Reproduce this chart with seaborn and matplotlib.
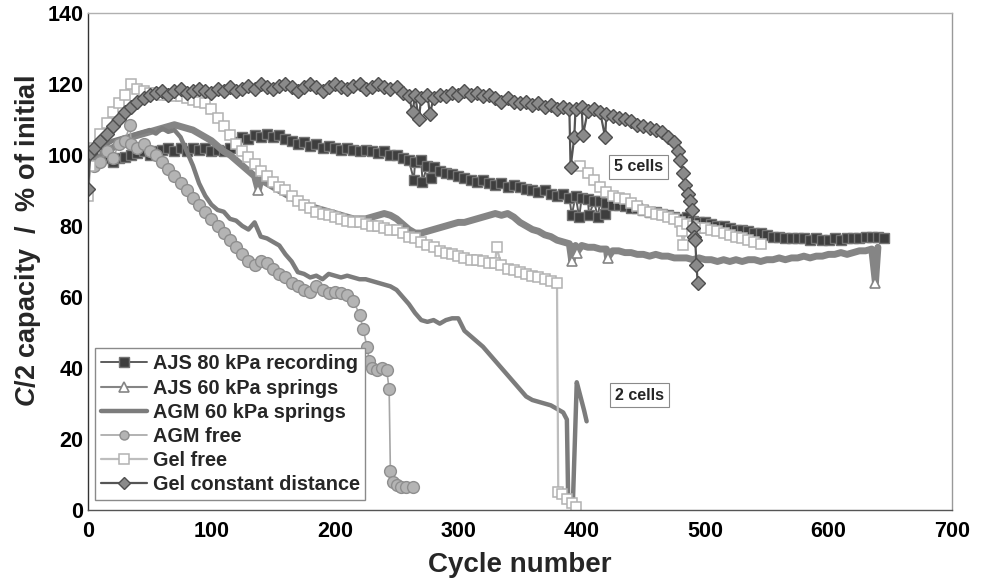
import numpy as np
import pandas as pd
import matplotlib
matplotlib.use("Agg")
import matplotlib.pyplot as plt
from matplotlib.lines import Line2D
import seaborn as sns

sns.set_theme(style="white")
plt.rcParams["font.family"] = ["Liberation Sans", "DejaVu Sans"]
plt.rcParams["font.weight"] = "bold"
plt.rcParams["mathtext.fontset"] = "custom"
plt.rcParams["mathtext.it"] = "Liberation Sans:italic:bold"
plt.rcParams["mathtext.rm"] = "Liberation Sans:bold"

# ---------------------------------------------------------------- data
# Regular readings every 5 cycles plus individual off-grid readings
# (start-up points, single-cycle dips, end of life).

ajs80_cycles = list(range(0, 650, 5))
ajs80_capacity = [
    100, 99, 98.5, 99, 98, 99, 99.5, 100, 100.5, 101,
    100, 101, 101.5, 102, 101, 102, 101, 102, 101.5, 102,
    101, 101.5, 101, 102, 103.5, 105, 104.5, 105.5, 105, 106,
    105, 105.5, 104.5, 104, 103, 103.5, 102.5, 103, 102, 102.5,
    102, 101.5, 102, 101.5, 101, 101.5, 101, 100.5, 101, 100,
    100, 99, 98.5, 98, 98.5, 97, 96.5, 95.5, 95, 94.5,
    94, 93.5, 93, 92.5, 93, 92, 91.5, 92, 91, 91.5,
    91, 90.5, 90, 89.5, 90, 89, 88.5, 89, 88, 88.5,
    88, 87.5, 87, 87, 86.5, 86, 86, 85.5, 85, 85,
    84.5, 84, 84, 83.5, 83, 82.5, 82, 82.5, 81.5, 81,
    81, 80.5, 80, 80, 79.5, 79, 79, 78.5, 78, 78,
    77.5, 77, 77, 76.5, 76.5, 76.5, 76.5, 76, 76.5, 76,
    76, 76.5, 76, 76.5, 76.5, 76.5, 77, 77, 77, 76.5,
]
ajs80_extra_cycles = [264, 271, 278, 392, 398, 406, 413, 419]
ajs80_extra_capacity = [93, 92.5, 93.5, 83, 82.5, 83, 82.5, 83.5]

ajs60_cycles = list(range(0, 645, 5))
ajs60_capacity = [
    98, 99, 100, 101, 102, 103, 104, 105, 105.5, 106,
    106.5, 107, 107.5, 108, 108.5, 108, 107.5, 107, 106, 105,
    104, 102.5, 101, 100, 98.5, 97, 95.5, 94, 93, 92,
    91, 90, 89, 88, 87, 86.5, 85.5, 85, 84.5, 84,
    83.5, 83, 82.5, 82, 82, 82, 82.5, 83, 83.5, 83,
    82, 80.5, 79, 78, 78, 78.5, 79, 79.5, 80, 80.5,
    81, 81, 81.5, 82, 82.5, 83, 83.5, 83, 83.5, 82.5,
    81, 80, 79, 78.5, 77.5, 77, 76, 75.5, 75, 74.5,
    74.5, 74, 74, 73.5, 73.5, 73, 73, 72.5, 72.5, 72,
    72, 71.5, 72, 71.5, 71.5, 71, 71, 71, 70.5, 71,
    70.5, 70.5, 70, 70.5, 70, 70.5, 70, 70.5, 70.5, 70,
    70.5, 70.5, 71, 70.5, 71, 71, 71.5, 71, 71.5, 71.5,
    72, 72, 72.5, 72, 72.5, 73, 73, 73.5, 74,
]
ajs60_extra_cycles = [138, 392, 396, 421, 638]
ajs60_extra_capacity = [90, 70, 72.5, 71, 64]

agm60_cycles = list(range(0, 390, 5))
agm60_capacity = [
    100, 101, 102, 103, 104, 104.5, 105, 105.5, 106, 106.5,
    107, 106, 107.5, 106.5, 107, 105, 101, 97, 92, 88.5,
    86, 84.5, 84, 82, 81.5, 80, 79, 81, 77, 76.5,
    75.5, 74.5, 72, 70, 67, 66.5, 65.5, 66, 65, 66.5,
    66, 65.5, 66, 65.5, 65, 65, 64.5, 64, 63.5, 63,
    62, 60, 58, 55.5, 53.5, 53, 53.5, 52.5, 53.5, 54,
    54, 50.5, 49, 47.5, 46, 44, 42, 40, 38, 36,
    34, 32, 31, 30.5, 30, 29.5, 28.5, 27.5,
]
agm60_extra_cycles = [388, 389, 393, 396, 399, 402, 404]
agm60_extra_capacity = [25.5, 4, 3.5, 36, 32, 28, 25]

agmfree_cycles = list(range(0, 220, 5))
agmfree_capacity = [
    100, 97, 98, 101, 99, 103, 104, 103, 102, 103,
    101, 100, 98, 96, 94, 92, 90, 88, 86, 84,
    82, 80, 78, 76, 74, 72, 70, 69, 70, 69.5,
    68, 66.5, 65.5, 64, 63, 62, 61.5, 63, 62, 61,
    61.5, 61, 60.5, 59,
]
agmfree_extra_cycles = [34, 220, 223, 226, 228, 230, 234, 238, 242, 244,
                        245, 247, 250, 254, 258, 263]
agmfree_extra_capacity = [108.5, 55, 51, 46, 42, 40, 39.5, 40, 39.5, 34,
                          11, 8, 7, 6.5, 6.5, 6.5]

gelfree_cycles = list(range(0, 385, 5))
gelfree_capacity = [
    88.5, 102, 106, 109, 112, 114.5, 117, 120, 118.5, 118,
    117.5, 117.5, 117, 117, 116.5, 116.5, 116, 115.5, 115, 114.5,
    113, 110.5, 108, 105.5, 103, 101, 99.5, 97.5, 95.5, 94,
    92.5, 91, 90, 88.5, 87, 86, 85, 84, 83.5, 83,
    82.5, 82, 81.5, 81, 81, 80.5, 80, 80, 79.5, 79,
    79, 78, 77, 76.5, 75.5, 74.5, 74, 73, 72.5, 72,
    71.5, 71, 70.5, 70.5, 70, 69.5, 69.5, 69, 68, 67.5,
    67, 66.5, 66, 65.5, 65, 64.5, 64,
]
gelfree_extra_cycles = [2, 331, 381, 384, 388, 392, 395]
gelfree_extra_capacity = [97, 74, 5, 4.5, 3, 2, 1]

# remaining five cells after one cell failed
gelfree5_cycles = [399] + list(range(405, 550, 5))
gelfree5_capacity = [
    97,
    95, 93, 91, 89.5, 88.5, 88, 87.5, 86.5, 85.5, 84.5,
    84, 83.5, 83, 82.5, 82, 81, 80.5, 80, 79.5, 79.5,
    79, 78.5, 78, 77.5, 77, 76.5, 76, 75.5, 75,
]
gelfree5_extra_cycles = [481, 482]
gelfree5_extra_capacity = [78.5, 74.5]

gelconst_cycles = list(range(5, 480, 5))
gelconst_capacity = [
    102, 104, 106, 108, 110, 112, 113.5, 115, 116, 117,
    117.5, 118, 117, 118, 118.5, 117.5, 118, 118.5, 118, 117.5,
    118.5, 118, 119, 118, 118.5, 119.5, 118.5, 120, 119, 118.5,
    119.5, 120, 119, 118, 119, 120, 119, 118, 119, 120,
    119, 118.5, 119.5, 120, 118.5, 119, 120, 119, 118.5, 119,
    117.5, 116.5, 117, 116, 117, 116, 117, 116.5, 117.5, 117,
    118, 117, 117.5, 116.5, 117, 116, 115, 116, 115, 114.5,
    115, 114, 114.5, 113.5, 114, 113, 113.5, 113, 113, 113.5,
    112.5, 113, 112, 111.5, 111, 110.5, 110, 109.5, 108.5, 108,
    107.5, 107, 106.5, 105, 103.5,
]
gelconst_extra_cycles = [0, 2, 263, 268, 277, 391, 394, 401, 419,
                         478, 480, 482, 484, 486, 488, 489, 490, 491, 492, 493, 494]
gelconst_extra_capacity = [90.5, 100.5, 112, 110, 111.5, 96.5, 105, 105.5, 105,
                           101, 98.5, 95, 91.5, 89, 87, 84.5, 79.5, 77, 76, 69, 64]

series_names = ["AJS 80 kPa recording", "AJS 60 kPa springs", "AGM 60 kPa springs",
                "AGM free", "Gel free", "Gel constant distance"]


def build(name, parts):
    frames = []
    for seg, (c, v, ec, ev) in enumerate(parts):
        cyc = np.concatenate([np.asarray(c, float), np.asarray(ec, float)])
        cap = np.concatenate([np.asarray(v, float), np.asarray(ev, float)])
        frames.append(pd.DataFrame({"cycle": cyc, "capacity": cap,
                                    "series": name, "segment": seg}))
    df = pd.concat(frames, ignore_index=True)
    return df.sort_values(["segment", "cycle"]).reset_index(drop=True)


data = {
    series_names[0]: build(series_names[0], [(ajs80_cycles, ajs80_capacity,
                                              ajs80_extra_cycles, ajs80_extra_capacity)]),
    series_names[1]: build(series_names[1], [(ajs60_cycles, ajs60_capacity,
                                              ajs60_extra_cycles, ajs60_extra_capacity)]),
    series_names[2]: build(series_names[2], [(agm60_cycles, agm60_capacity,
                                              agm60_extra_cycles, agm60_extra_capacity)]),
    series_names[3]: build(series_names[3], [(agmfree_cycles, agmfree_capacity,
                                              agmfree_extra_cycles, agmfree_extra_capacity)]),
    series_names[4]: build(series_names[4], [(gelfree_cycles, gelfree_capacity,
                                              gelfree_extra_cycles, gelfree_extra_capacity),
                                             (gelfree5_cycles, gelfree5_capacity,
                                              gelfree5_extra_cycles, gelfree5_extra_capacity)]),
    series_names[5]: build(series_names[5], [(gelconst_cycles, gelconst_capacity,
                                              gelconst_extra_cycles, gelconst_extra_capacity)]),
}

# triangles of the AJS 60 series are only visible at its dips
ajs60_df = data[series_names[1]]
ajs60_marks = [i for i, c in enumerate(ajs60_df["cycle"]) if c in ajs60_extra_cycles]

styles = {
    series_names[0]: dict(color="#5c5c5c", lw=1.4, marker="s", ms=7.5,
                          mfc="#3e3e3e", mec="#747474", mew=1.0),
    series_names[1]: dict(color="#858585", lw=5.0, marker="^", ms=7,
                          mfc="white", mec="#858585", mew=1.2, markevery=ajs60_marks),
    series_names[2]: dict(color="#7c7c7c", lw=3.2, marker=None),
    series_names[3]: dict(color="#a6a6a6", lw=1.2, marker="o", ms=8.5,
                          mfc="#b4b4b4", mec="#8e8e8e", mew=1.0),
    series_names[4]: dict(color="#bdbdbd", lw=1.6, marker="s", ms=7.5,
                          mfc="white", mec="#b2b2b2", mew=1.1),
    series_names[5]: dict(color="#555555", lw=1.6, marker="D", ms=6.8,
                          mfc="#8a8a8a", mec="#4e4e4e", mew=1.0),
}

# ---------------------------------------------------------------- figure
fig = plt.figure(figsize=(9.81, 5.83), dpi=100)
ax = fig.add_axes([0.0897, 0.125, 0.8807, 0.853])

for name in series_names:
    st = dict(styles[name])
    kws = dict(linewidth=st.pop("lw"), color=st.pop("color"))
    mk = st.pop("marker")
    if mk is not None:
        kws.update(marker=mk, markersize=st.pop("ms"), markerfacecolor=st.pop("mfc"),
                   markeredgecolor=st.pop("mec"), markeredgewidth=st.pop("mew"))
    kws.update(st)
    sns.lineplot(data=data[name], x="cycle", y="capacity", units="segment",
                 estimator=None, ax=ax, legend=False, **kws)

ax.set_xlim(0, 700)
ax.set_ylim(0, 140)
ax.set_xticks(range(0, 701, 100))
ax.set_yticks(range(0, 141, 20))
ax.tick_params(axis="x", which="major", direction="out", length=4, width=1,
               color="#555555", labelsize=15.5, pad=4)
ax.tick_params(axis="y", which="major", direction="out", length=3, width=1,
               color="#555555", labelsize=15.5, pad=0.5)
for lab in ax.get_xticklabels() + ax.get_yticklabels():
    lab.set_fontweight("bold")
    lab.set_color("black")

ax.spines["left"].set_color("#333333")
ax.spines["bottom"].set_color("#555555")
ax.spines["top"].set_color("#b0b0b0")
ax.spines["right"].set_color("#999999")
for s in ax.spines.values():
    s.set_linewidth(1.0)

ax.set_xlabel("Cycle number", fontsize=20, fontweight="bold", labelpad=7)
ax.set_ylabel("$C$/2 capacity  /  % of initial", fontsize=19.5, fontweight="bold")
ax.yaxis.set_label_coords(-0.052, 0.54)

box = dict(boxstyle="square,pad=0.3", fc="white", ec="#8a8a8a", lw=0.8)
ax.text(446, 96.6, "5 cells", fontsize=11.5, fontweight="bold", ha="center",
        va="center", bbox=box)
ax.text(447, 32.4, "2 cells", fontsize=11.5, fontweight="bold", ha="center",
        va="center", bbox=box)

handles = []
for name in series_names:
    st = styles[name]
    h = Line2D([], [], color=st["color"], lw=min(st["lw"], 3.2),
               marker=st["marker"] if st["marker"] else "None",
               markersize=st.get("ms", 0), markerfacecolor=st.get("mfc", "none"),
               markeredgecolor=st.get("mec", "none"), markeredgewidth=st.get("mew", 0))
    handles.append(h)
handles[1].set_linewidth(1.5)
for h in handles:
    if h.get_marker() not in ("None", None):
        h.set_markersize(6.5)
leg = ax.legend(handles, series_names, loc="lower left", bbox_to_anchor=(0.008, 0.02),
                borderaxespad=0, frameon=True, fancybox=False, framealpha=1,
                edgecolor="#8a8a8a", fontsize=14.3, handlelength=2.3,
                handletextpad=0.3, labelspacing=0.26, borderpad=0.3)
leg.get_frame().set_linewidth(1.0)
for t in leg.get_texts():
    t.set_fontweight("bold")

fig.savefig("out.png", dpi=100, facecolor="white")
